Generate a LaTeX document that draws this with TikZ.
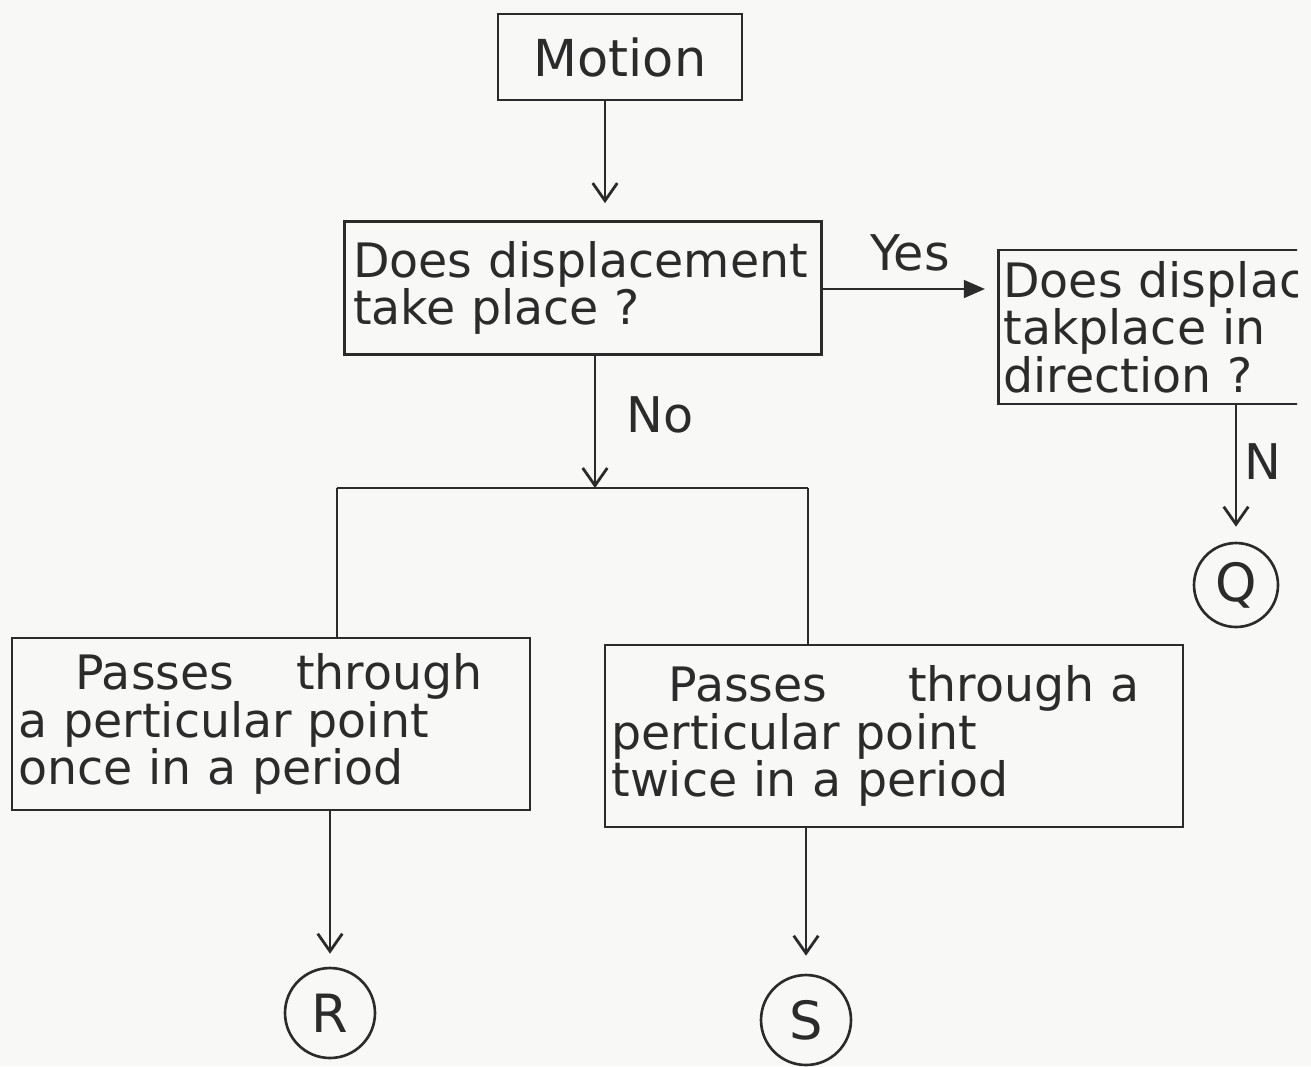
\documentclass[tikz,border=0pt]{standalone}
\usepackage{fontspec}
\setmainfont{DejaVu Sans}
\usetikzlibrary{arrows.meta}
\definecolor{ink}{HTML}{2B2B2B}
\definecolor{paper}{HTML}{F8F8F6}
\tikzset{
  box/.style={draw=ink, line width=1.6pt, rectangle, inner sep=0pt},
  txt/.style={text=ink, font=\fontsize{27}{26}\selectfont, align=left},
  lbl/.style={text=ink, font=\fontsize{28}{30}\selectfont},
  endc/.style={draw=ink, line width=1.5pt, circle, minimum size=1.8cm, inner sep=0pt, text=ink, font=\fontsize{30}{30}\selectfont},
  conn/.style={draw=ink, line width=1.6pt},
  barb/.style={conn, -{Straight Barb[length=10pt,width=14pt,line width=1.6pt]}},
  solid arr/.style={conn, -{Triangle[length=12pt,width=10pt]}}
}
\begin{document}
\begin{tikzpicture}[x=0.02cm,y=-0.02cm]
\fill[paper] (0,0) rectangle (1311,1066);
\useasboundingbox (0,0) rectangle (1311,1066);
\begin{scope}
\clip (0,0) rectangle (1297,1066);
% boxes
\node[box, minimum width=4.88cm, minimum height=1.72cm, font=\fontsize{29}{30}\selectfont, text=ink] (motion) at (620,57) {Motion};
\node[box, txt, minimum width=9.54cm, minimum height=2.66cm, text width=9.2cm] (disp) at (583,288) {Does displacement\\take place ?};
\node[box, txt, anchor=west, minimum width=8cm, minimum height=3.08cm, text width=7.8cm] (dir) at (997,327) {Does displac\\takplace in\\direction ?};
\node[box, txt, minimum width=10.36cm, minimum height=3.44cm, text width=10.1cm] (once) at (271,724) {\hspace*{1.2em}Passes\hspace{1.3em}through\\a perticular point\\once in a period};
\node[box, txt, minimum width=11.56cm, minimum height=3.64cm, text width=11.3cm] (twice) at (894,736) {\hspace*{1.2em}Passes\hspace{1.7em}through a\\perticular point\\twice in a period};
% end circles
\node[endc, minimum size=1.68cm] (Q) at (1236,585) {Q};
\node[endc] (R) at (330,1013) {R};
\node[endc] (S) at (806,1020) {S};
% junction
\coordinate (jm) at (595,488);
\coordinate (jl) at (337,488);
\coordinate (jr) at (808,488);
% connectors
\draw[barb, shorten >=0.34cm] (motion.south -| 605,0) -- (disp.north -| 605,0);
\draw[solid arr, shorten >=0.24cm] (disp.east |- 0,289) -- (dir.west |- 0,289) node[midway, above=6pt, lbl] (yes) {Yes};
\draw[barb] (disp.south -| jm) -- (jm) node[pos=0.45, right=14pt, lbl] (no) {No};
\draw[conn] (jl) -- (jr);
\draw[conn] (jl) -- (jl |- once.north);
\draw[conn] (jr) -- (jr |- twice.north);
\draw[barb, shorten >=0.3cm] (dir.south -| Q) -- (Q.north);
\node[lbl, anchor=west] (n) at (1238,462) {N};
\draw[barb, shorten >=0.26cm] (once.south -| R) -- (R.north);
\draw[barb, shorten >=0.36cm] (twice.south -| S) -- (S.north);
\end{scope}
\end{tikzpicture}
\end{document}
